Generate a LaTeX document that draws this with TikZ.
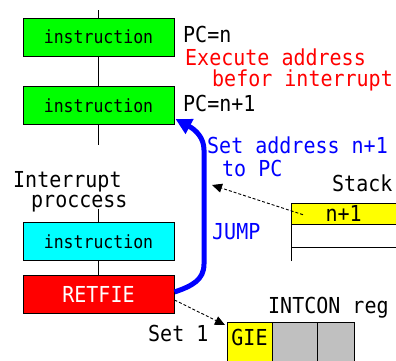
\documentclass[tikz,border=0pt]{standalone}
\usepackage{fontspec}
\newfontfamily\gothic{DejaVu Sans Mono}
\usetikzlibrary{arrows.meta,calc}
\newcommand\tallfont[1]{\scalebox{1}[1.1]{#1}}
\definecolor{lime}{RGB}{0,255,0}
\definecolor{aqua}{RGB}{0,255,255}
\definecolor{pure red}{RGB}{255,0,0}
\definecolor{pure blue}{RGB}{0,0,255}
\definecolor{pure yellow}{RGB}{255,255,0}
\definecolor{cellgray}{RGB}{192,192,192}
\begin{document}
\begin{tikzpicture}[x=1pt,y=-1pt,
  every node/.style={font=\gothic\fontsize{20}{22}\selectfont, inner sep=0pt},
  box/.style={draw=black, line width=1pt, minimum width=151pt, minimum height=38pt,
    font=\gothic\fontsize{16.5}{18}\selectfont},
  label text/.style={anchor=west, text=black},
  cell/.style={draw=black, line width=1pt, anchor=north west, minimum height=40pt},
  flow/.style={draw=black, line width=1pt},
  pointer/.style={draw=black, line width=0.9pt, densely dashed,
    -{Triangle[length=10pt,width=9pt]}},
  jump/.style={draw=pure blue, line width=5pt,
    -{Triangle[length=16pt,width=16pt]}}]
\useasboundingbox (0,0) rectangle (396,360);

% main program flow
\coordinate (top) at (98.5,10);
\coordinate (bot) at (98.5,145);
\node[box, fill=lime] (g1) at (98.5,37) {\tallfont{instruction}};
\node[box, fill=lime] (g2) at (98.5,105.5) {\tallfont{instruction}};
\draw[flow] (top) -- (g1.north);
\draw[flow] (g1.south) -- (g2.north);
\draw[flow] (g2.south) -- (bot);

\node[label text] (pcn) at (183,34) {\tallfont{PC=n}};
\node[label text, text=pure red] (ex1) at (185,57) {\tallfont{Execute address}};
\node[label text, text=pure red] (ex2) at (212,80) {\tallfont{befor interrupt}};
\node[label text] (pcn1) at (183,103) {\tallfont{PC=n+1}};

% interrupt routine
\coordinate (isr) at (98.5,209);
\node[box, fill=aqua] (c1) at (98.5,241.5) {\tallfont{instruction}};
\node[box, fill=pure red, text=white, font=\gothic\fontsize{20}{22}\selectfont] (r1) at (98.5,294) {\tallfont{RETFIE}};
\draw[flow] (isr) -- (c1.north);
\draw[flow] (c1.south) -- (r1.north);
\node[anchor=base west] (int1) at (13,187) {\tallfont{Interrupt}};
\node[anchor=base west] (int2) at (31,207) {\tallfont{proccess}};

% return jump
\draw[jump] ($(r1.east)+(0,-2)$) .. controls (192,286) and (204,280) .. (204,264)
  -- (204,150) .. controls (204,138) and (196,130) .. ($(g2.south east)+(1,-6)$);
\node[label text, text=pure blue] (jmp) at (212,232) {\tallfont{JUMP}};
\node[label text, text=pure blue] (sa1) at (207,145) {\tallfont{Set address n+1}};
\node[label text, text=pure blue] (sa2) at (222,168) {\tallfont{to PC}};

% stack
\node[label text] (stk) at (332,183) {\tallfont{Stack}};
\node[anchor=north west, fill=pure yellow, minimum width=105pt, minimum height=21pt,
  text depth=0pt] (sn) at (291,203) {\tallfont{n+1}};
\draw[flow] (291,261) -- (291,203) -- (396,203);
\draw[flow] (291,224) -- (396,224);
\draw[flow] (291,247) -- (396,247);
\coordinate (pcin) at (212,185);
\draw[pointer] ($(sn.west)+(12,1)$) -- (pcin);

% INTCON register
\node[label text] (ic) at (268,308) {\tallfont{INTCON reg}};
\node[cell, fill=pure yellow, minimum width=45pt] (gie) at (227,322) {};
\node[font=\gothic\fontsize{20}{22}\selectfont] at (249.5,337) {\tallfont{GIE}};
\node[cell, fill=cellgray, minimum width=45pt] (b1) at (272,322) {};
\node[cell, fill=cellgray, minimum width=37pt] (b2) at (317,322) {};
\node[label text] (set1) at (148,333) {\tallfont{Set 1}};
\draw[pointer] ($(r1.east)+(0,6)$) -- ($(gie.north west)+(-2,3)$);
\end{tikzpicture}
\end{document}
